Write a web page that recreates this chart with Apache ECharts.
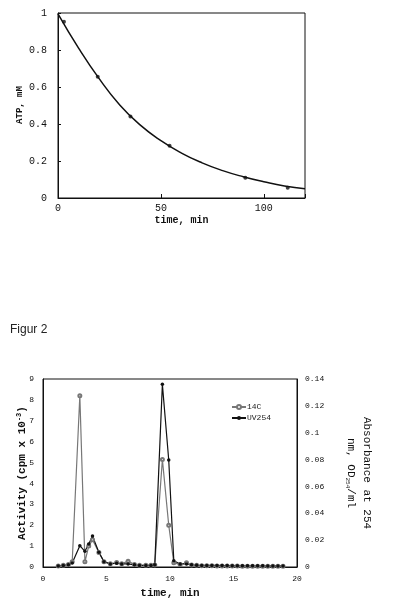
<!DOCTYPE html>
<html>
<head>
<meta charset="UTF-8">
<title>Figur 2</title>
<script src="https://cdn.jsdelivr.net/npm/echarts@6/dist/echarts.min.js"></script>
<style>
  html, body { margin: 0; padding: 0; background: #fff; }
  #main { width: 394px; height: 603px; }
</style>
</head>
<body>
<div id="main"></div>
<script type="text/javascript">
// top panel: ATP decay
var atpTime = [2.9, 19.3, 35.2, 54.2, 91, 111.6];
var atpValue = [0.953, 0.656, 0.44, 0.283, 0.11, 0.056];
// fitted curve
var fitTime = [0, 10, 20, 30, 40, 50, 60, 70, 80, 90, 100, 110, 120];
var fitValue = [0.995, 0.81, 0.645, 0.503, 0.394, 0.31, 0.243, 0.19, 0.148, 0.115, 0.088, 0.065, 0.05];

// bottom panel: chromatogram
var time = [1.2, 1.6, 2.0, 2.3, 2.9, 3.3, 3.6, 3.9, 4.4, 4.8, 5.3, 5.8, 6.2, 6.7, 7.2, 7.6, 8.1, 8.5, 8.8,
            9.4, 9.9, 10.3, 10.8, 11.3, 11.7, 12.1, 12.5, 12.9, 13.3, 13.7, 14.1, 14.5, 14.9, 15.3, 15.7,
            16.1, 16.5, 16.9, 17.3, 17.7, 18.1, 18.5, 18.9];
var c14 = [0.05, 0.08, 0.12, 0.25, 8.2, 0.25, 1.0, 1.3, 0.7, 0.25, 0.15, 0.22, 0.15, 0.28, 0.12, 0.08, 0.08, 0.08, 0.1,
           5.15, 2.0, 0.2, 0.12, 0.2, 0.1, 0.08, 0.06, 0.06, 0.06, 0.05, 0.05, 0.05, 0.05, 0.05, 0.04,
           0.04, 0.04, 0.04, 0.03, 0.03, 0.03, 0.03, 0.03];
var uv254 = [0.0008, 0.0012, 0.0016, 0.003, 0.0159, 0.0117, 0.0171, 0.023, 0.011, 0.004, 0.0023, 0.0028, 0.0023, 0.0023, 0.0016, 0.0012, 0.0012, 0.0012, 0.0016,
             0.136, 0.0797, 0.0047, 0.0023, 0.0023, 0.0016, 0.0013, 0.0012, 0.0012, 0.0012, 0.0012, 0.0011, 0.0011, 0.001, 0.001, 0.001,
             0.001, 0.0009, 0.0009, 0.0009, 0.0008, 0.0008, 0.0008, 0.0008];

function pairs(xs, ys) {
  var out = [];
  for (var i = 0; i < xs.length; i++) out.push([xs[i], ys[i]]);
  return out;
}

var mono = 'Liberation Mono';
var lbl = { color: '#111', fontFamily: mono, fontSize: 10 };
var nm = { color: '#111', fontFamily: mono, fontSize: 10, fontWeight: 'bold' };

var myChart = echarts.init(document.getElementById('main'));
var option = {
  animation: false,
  title: {
    text: 'Figur 2', left: 5, top: 319,
    textStyle: { fontFamily: 'Liberation Sans', fontSize: 12, fontWeight: 'normal', color: '#222' }
  },
  // left axis titles placed by hand (v6 pushes axis names away from labels)
  graphic: [
    {
      type: 'text', x: 20, y: 105, rotation: Math.PI / 2,
      style: { text: 'ATP, mM', fill: '#111', font: 'bold 9px "Liberation Mono"', align: 'center', verticalAlign: 'middle' }
    },
    {
      type: 'text', x: 22, y: 473, rotation: Math.PI / 2,
      style: {
        text: 'Activity (cpm x 10{sup|-3})', fill: '#111', font: 'bold 11px "Liberation Mono"',
        align: 'center', verticalAlign: 'middle',
        rich: { sup: { font: 'bold 7px "Liberation Mono"', fill: '#111', verticalAlign: 'top', padding: [0, 0, 6, 0] } }
      }
    }
  ],
  legend: {
    data: ['14C', 'UV254'], orient: 'vertical', left: 226, top: 398,
    itemWidth: 14, itemHeight: 5, itemGap: 3,
    textStyle: { fontFamily: mono, fontSize: 8, color: '#222', padding: [0, 0, 0, -4] }
  },
  grid: [
    { left: 58, top: 13, width: 247, height: 185, show: true, borderColor: '#111', borderWidth: 1 },
    { left: 43, top: 379, width: 254, height: 188, show: true, borderColor: '#111', borderWidth: 1 }
  ],
  xAxis: [
    {
      gridIndex: 0, type: 'value', min: 0, max: 120, interval: 50,
      axisLine: { lineStyle: { color: '#111' } },
      axisTick: { inside: true, length: 4, lineStyle: { color: '#111' } },
      splitLine: { show: false },
      axisLabel: Object.assign({ margin: 5, formatter: function (v) { return v === 120 ? '' : v; } }, lbl),
      name: 'time, min', nameLocation: 'middle', nameGap: 17, nameTextStyle: nm
    },
    {
      gridIndex: 1, type: 'value', min: 0, max: 20, interval: 5,
      axisLine: { lineStyle: { color: '#111' } },
      axisTick: { show: false },
      splitLine: { show: false },
      axisLabel: Object.assign({ margin: 8 }, lbl, { fontSize: 8 }),
      name: 'time, min', nameLocation: 'middle', nameGap: 21,
      nameTextStyle: Object.assign({}, nm, { fontSize: 11 })
    }
  ],
  yAxis: [
    {
      gridIndex: 0, type: 'value', min: 0, max: 1, interval: 0.2,
      axisLine: { show: true, lineStyle: { color: '#111' } },
      axisTick: { show: true, inside: true, length: 3, lineStyle: { color: '#111' } },
      splitLine: { show: false },
      axisLabel: Object.assign({ margin: 11 }, lbl)
    },
    {
      gridIndex: 1, type: 'value', min: 0, max: 9, interval: 1, position: 'left',
      axisLine: { show: true, lineStyle: { color: '#111' } },
      axisTick: { show: false },
      splitLine: { show: false },
      axisLabel: Object.assign({ margin: 9 }, lbl, { fontSize: 8 })
    },
    {
      gridIndex: 1, type: 'value', min: 0, max: 0.14, interval: 0.02, position: 'right',
      axisLine: { show: true, lineStyle: { color: '#111' } },
      axisTick: { show: false },
      splitLine: { show: false },
      axisLabel: Object.assign({ margin: 8 }, lbl, { fontSize: 8 }),
      name: 'Absorbance at 254\nnm, OD{sub|254}/ml', nameLocation: 'middle', nameGap: 46, nameRotate: -90,
      nameTextStyle: Object.assign({}, nm, {
        fontWeight: 'normal', fontSize: 11, lineHeight: 16,
        rich: { sub: { fontFamily: mono, fontSize: 6, color: '#111', padding: [6, 0, 0, 0] } }
      })
    }
  ],
  series: [
    {
      name: 'fit', type: 'line', xAxisIndex: 0, yAxisIndex: 0, smooth: true, showSymbol: false,
      lineStyle: { color: '#111', width: 1.5 }, data: pairs(fitTime, fitValue)
    },
    {
      name: 'ATP', type: 'scatter', xAxisIndex: 0, yAxisIndex: 0, symbolSize: 4,
      itemStyle: { color: '#111' }, data: pairs(atpTime, atpValue)
    },
    {
      name: '14C', type: 'line', xAxisIndex: 1, yAxisIndex: 1, symbol: 'emptyCircle', symbolSize: 3,
      lineStyle: { color: '#777', width: 1.2 }, itemStyle: { color: '#777', borderWidth: 1 },
      data: pairs(time, c14)
    },
    {
      name: 'UV254', type: 'line', xAxisIndex: 1, yAxisIndex: 2, symbol: 'circle', symbolSize: 3.5,
      lineStyle: { color: '#111', width: 1.2 }, itemStyle: { color: '#111' },
      data: pairs(time, uv254)
    }
  ]
};
myChart.setOption(option);
</script>
</body>
</html>
